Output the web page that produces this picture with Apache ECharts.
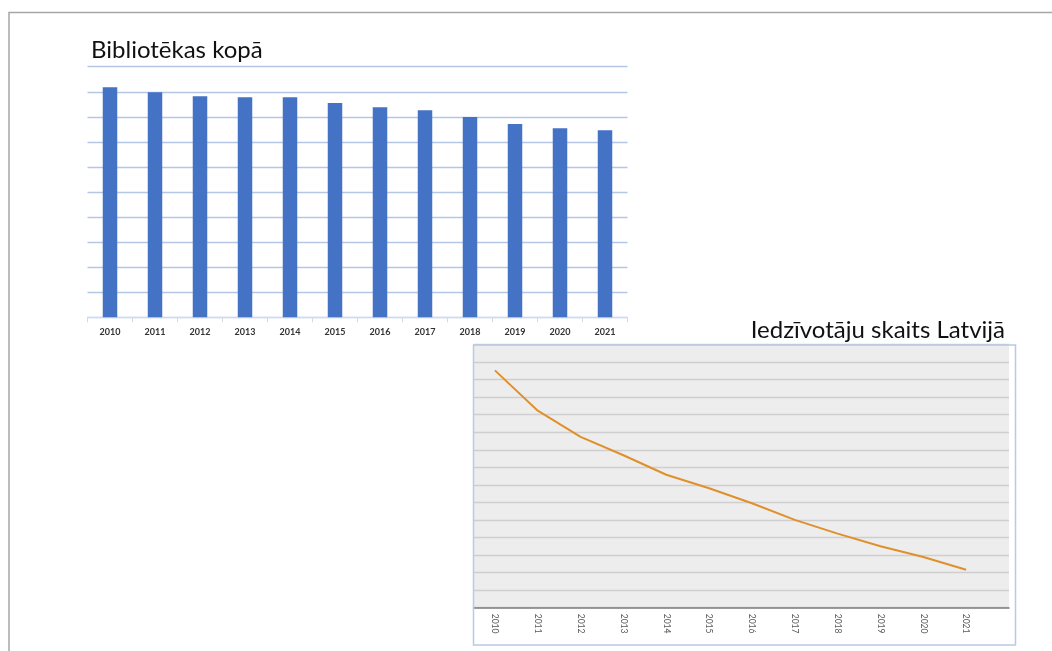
<!DOCTYPE html>
<html>
<head>
<meta charset="utf-8">
<script src="https://cdn.jsdelivr.net/npm/echarts@6/dist/echarts.min.js"></script>
<style>
html,body{margin:0;padding:0;background:#fff;}
#c{width:1052px;height:651px;}
</style>
</head>
<body>
<div id="c"></div>
<script>
// Bar chart: Bibliotēkas kopā
var barYears = ['2010','2011','2012','2013','2014','2015','2016','2017','2018','2019','2020','2021'];
var libraries = [1836, 1796, 1764, 1756, 1756, 1710, 1676, 1652, 1598, 1542, 1508, 1492];

// Line chart: Iedzīvotāju skaits Latvijā
var lineYears = [2010, 2011, 2012, 2013, 2014, 2015, 2016, 2017, 2018, 2019, 2020, 2021];
var population = [2120500, 2074600, 2044800, 2023800, 2001500, 1986100, 1969000, 1950100, 1934400, 1920000, 1907700, 1893200];

var titleBars = 'Bibliotēkas kopā';
var titleLine = 'Iedzīvotāju skaits Latvijā';

var FONT = 'Lato, "Open Sans", sans-serif';

var chart = echarts.init(document.getElementById('c'), null, {renderer: 'canvas'});

var lineData = lineYears.map(function (y, i) { return [y, population[i]]; });

chart.setOption({
  animation: false,
  backgroundColor: '#ffffff',
  textStyle: {fontFamily: FONT},
  title: [
    {
      text: titleBars, left: 86, top: 33,
      textStyle: {fontFamily: FONT, fontSize: 24, fontWeight: 'normal', color: '#111111'}
    },
    {
      text: titleLine, right: 42, top: 313,
      textStyle: {fontFamily: FONT, fontSize: 24, fontWeight: 'normal', color: '#111111'}
    }
  ],
  grid: [
    {left: 87.5, top: 66.7, width: 540, height: 250.6, containLabel: false},
    {left: 473.5, top: 344.5, width: 535.5, height: 263.2, containLabel: false,
     show: true, backgroundColor: '#ededed', borderWidth: 0}
  ],
  xAxis: [
    {
      gridIndex: 0, type: 'category', data: barYears, boundaryGap: true,
      axisLine: {show: true, lineStyle: {color: '#d9d9d9', width: 1}},
      axisTick: {show: true, length: 5, lineStyle: {color: '#d9d9d9'}},
      axisLabel: {fontFamily: FONT, fontSize: 9, fontWeight: 'bold', color: '#333333', margin: 10},
      splitLine: {show: false}
    },
    {
      gridIndex: 1, type: 'value', min: 2009.5, max: 2022,
      axisLine: {show: true, onZero: false, lineStyle: {color: '#7f7f7f', width: 1.5}},
      axisTick: {show: false},
      axisLabel: {customValues: lineYears, rotate: -90, fontFamily: FONT, fontSize: 8.5,
                  color: '#595959', margin: 6, formatter: function (v) { return String(v); }},
      splitLine: {show: false}
    }
  ],
  yAxis: [
    {
      gridIndex: 0, type: 'value', min: 0, max: 2000, interval: 200,
      axisLine: {show: false}, axisTick: {show: false}, axisLabel: {show: false},
      splitLine: {show: true, lineStyle: {color: '#b4c7e7', width: 1.3}}
    },
    {
      gridIndex: 1, type: 'value', min: 1850000, max: 2150000, interval: 20000,
      axisLine: {show: false}, axisTick: {show: false}, axisLabel: {show: false},
      splitLine: {show: true, lineStyle: {color: '#cfcfcf', width: 1.3}}
    }
  ],
  series: [
    {
      type: 'bar', xAxisIndex: 0, yAxisIndex: 0, data: libraries,
      barWidth: 14.5, itemStyle: {color: '#4472c4'}, z: 3
    },
    {
      type: 'line', xAxisIndex: 1, yAxisIndex: 1, data: lineData,
      symbol: 'none', smooth: false,
      lineStyle: {color: '#e0902b', width: 2}, z: 3
    }
  ],
  graphic: [
    {
      type: 'polyline', z: 100, silent: true,
      shape: {points: [[9, 651], [9, 12.5], [1052, 12.5]]},
      style: {stroke: '#a6a6a6', lineWidth: 1.5, fill: null}
    },
    {
      type: 'rect', z: 100, silent: true,
      shape: {x: 473.5, y: 345, width: 542, height: 300},
      style: {stroke: '#b8cae8', lineWidth: 1.5, fill: null}
    }
  ]
});
</script>
</body>
</html>
